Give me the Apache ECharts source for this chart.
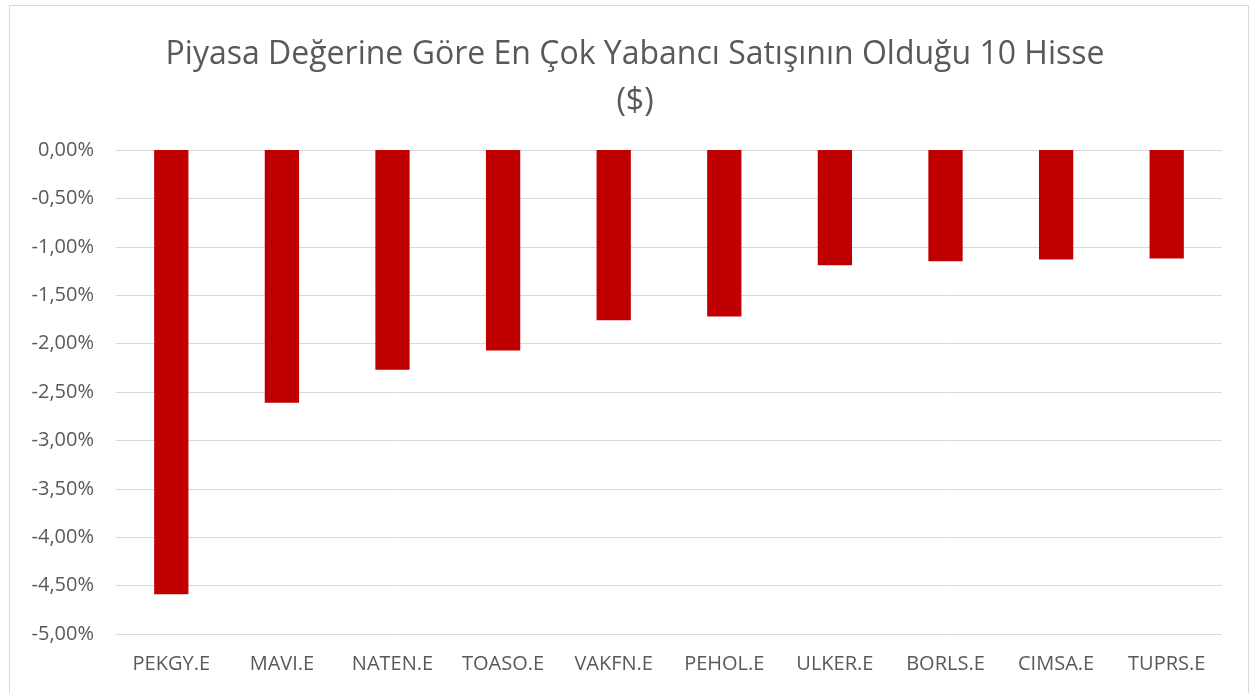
<!DOCTYPE html>
<html>
<head>
<meta charset="utf-8">
<script src="https://cdn.jsdelivr.net/npm/echarts@6/dist/echarts.min.js"></script>
<style>
  html, body { margin: 0; padding: 0; background: #fff; }
  #chart { width: 1251px; height: 693px; }
</style>
</head>
<body>
<div id="chart"></div>
<script>
  // hisseler ve yabancı satış oranları (%)
  var categories = ['PEKGY.E', 'MAVI.E', 'NATEN.E', 'TOASO.E', 'VAKFN.E', 'PEHOL.E', 'ULKER.E', 'BORLS.E', 'CIMSA.E', 'TUPRS.E'];
  var values = [-4.59, -2.61, -2.27, -2.07, -1.76, -1.72, -1.19, -1.15, -1.13, -1.12];
  var titleLines = ['Piyasa Değerine Göre En Çok Yabancı Satışının Olduğu 10 Hisse', '($)'];

  var chart = echarts.init(document.getElementById('chart'));
  chart.setOption({
    animation: false,
    textStyle: { fontFamily: 'Open Sans' },
    title: {
      text: titleLines.join('\n'),
      left: 630,
      textAlign: 'center',
      top: 26,
      textStyle: {
        fontFamily: 'Open Sans',
        fontSize: 32,
        fontWeight: 'normal',
        color: '#595959',
        lineHeight: 47
      }
    },
    // dış çerçeve
    graphic: [{
      type: 'rect',
      shape: { x: 9.5, y: 5.5, width: 1239, height: 720 },
      style: { fill: 'none', stroke: '#d9d9d9', lineWidth: 1 },
      silent: true
    }],
    grid: {
      left: 116,
      right: 29,
      top: 150,
      bottom: 59,
      containLabel: false
    },
    xAxis: {
      type: 'category',
      data: categories,
      position: 'bottom',
      axisLine: { show: false },
      axisTick: { show: false },
      axisLabel: {
        color: '#595959',
        fontSize: 20,
        margin: 20,
        interval: 0
      }
    },
    yAxis: {
      type: 'value',
      min: -5,
      max: 0,
      interval: 0.5,
      axisLine: { show: false },
      axisTick: { show: false },
      splitLine: { lineStyle: { color: '#d9d9d9', width: 1 } },
      axisLabel: {
        color: '#595959',
        fontSize: 20,
        margin: 22,
        formatter: function (v) {
          return v.toFixed(2).replace('.', ',') + '%';
        }
      }
    },
    series: [{
      type: 'bar',
      data: values,
      barWidth: '31%',
      itemStyle: { color: '#c00000' }
    }]
  });
</script>
</body>
</html>
